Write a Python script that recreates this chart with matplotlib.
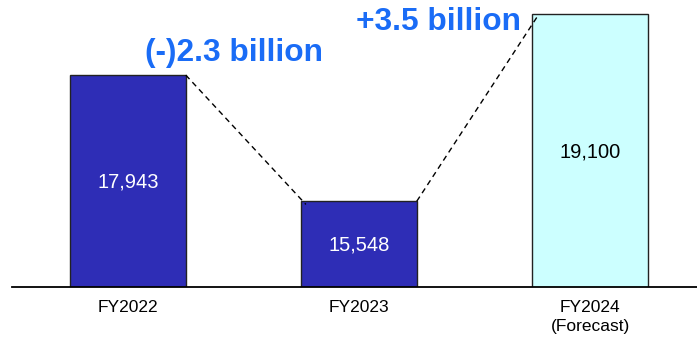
import numpy as np
import matplotlib.pyplot as plt

# Dados
anos = ["FY2022", "FY2023", "FY2024\n(Forecast)"]
valores = [17943, 15548, 19100]
rotulos = ["17,943", "15,548", "19,100"]
variacoes = ["(-)2.3 billion", "+3.5 billion"]

cores = ["#2e2db6", "#2e2db6", "#ccffff"]
cor_texto = ["white", "white", "black"]

plt.rcParams['font.family'] = ['Liberation Sans', 'DejaVu Sans']

fig = plt.figure(figsize=(6.97, 3.39), dpi=100)
ax = fig.add_axes([12 / 697, 1 - 287 / 339, 1 - 12 / 697, 287 / 339])

x_pos = np.arange(len(anos))
largura = 0.5
ax.bar(x_pos, valores, width=largura, color=cores, edgecolor="#222222",
       linewidth=1.0, zorder=2)

ax.set_ylim(13921, 13921 + 287 / 0.0527)
ax.set_xlim(-0.502, 2.463)

# Valores dentro das barras
base = ax.get_ylim()[0]
for x, v, r, c in zip(x_pos, valores, rotulos, cor_texto):
    ax.text(x, (base + v) / 2 - 20, r, ha="center", va="center", fontsize=14.5, color=c)

# Linhas tracejadas entre as barras
for i in range(len(valores) - 1):
    ax.plot([x_pos[i] + largura / 2, x_pos[i + 1] - largura / 2 + 0.02],
            [valores[i], valores[i + 1] - 60],
            linestyle=(0, (4, 3)), color="black", linewidth=1.0, zorder=3)

# Variações
ax.text(0.459, 18370, variacoes[0], ha="center", va="center", fontsize=22.8,
        fontweight="bold", color="#1a6cf6")
ax.text(1.342, 18950, variacoes[1], ha="center", va="center", fontsize=22.8,
        fontweight="bold", color="#1a6cf6")

# Eixos
ax.set_xticks(x_pos, anos, fontsize=12.5, linespacing=1.4)
ax.tick_params(axis="x", length=0, pad=9)
ax.set_yticks([])
for s in ["top", "left", "right"]:
    ax.spines[s].set_visible(False)
ax.spines["bottom"].set_linewidth(1.3)
ax.spines["bottom"].set_zorder(4)

plt.savefig("out.png", dpi=100)
